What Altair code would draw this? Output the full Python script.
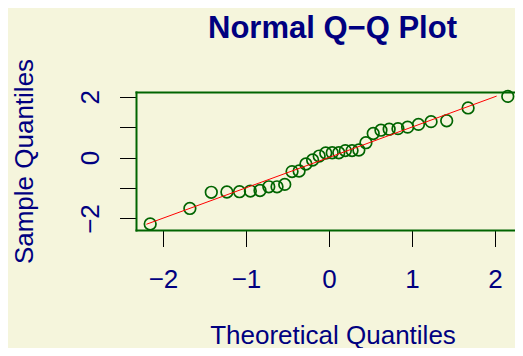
import altair as alt
import pandas as pd

# Theoretical quantiles (x) and sample quantiles (y)
theoretical = [-2.154, -1.676, -1.418, -1.230, -1.078, -0.947, -0.831, -0.725,
               -0.626, -0.533, -0.445, -0.360, -0.278, -0.197, -0.118, -0.039,
               0.039, 0.118, 0.197, 0.278, 0.360, 0.445, 0.533, 0.626,
               0.725, 0.831, 0.947, 1.078, 1.230, 1.418, 1.676, 2.154]
sample = [-2.18, -1.67, -1.14, -1.13, -1.12, -1.10, -1.08, -0.96,
          -0.96, -0.88, -0.46, -0.44, -0.21, -0.08, 0.05, 0.15,
          0.16, 0.16, 0.23, 0.23, 0.25, 0.49, 0.79, 0.90,
          0.93, 0.95, 1.00, 1.09, 1.18, 1.21, 1.63, 2.01]

# Reference line (qqline) end points
line_x = [-2.20, 2.02]
line_y = [-2.19, 2.02]

tick_values = [-2, -1, 0, 1, 2]

pts = pd.DataFrame({"x": theoretical, "y": sample})
ln = pd.DataFrame({"x": line_x, "y": line_y})

FONT = "Liberation Sans"
NAVY = "#000080"
GREEN = "#006400"
BG = "#f5f5dc"

W, H = 379, 138

xscale = alt.Scale(domain=[-2.325, 2.241], nice=False, zero=False)
yscale = alt.Scale(domain=[-2.378, 2.154], nice=False, zero=False)

yaxis = alt.Axis(
    values=tick_values,
    labelExpr="datum.value % 2 == 0 ? datum.label : ''",
    labelOverlap=False, labelFlush=False,
    labelAngle=270, labelAlign="center", labelBaseline="alphabetic",
    labelPadding=21, labelColor=NAVY, labelFont=FONT, labelFontSize=26,
    tickSize=16.5, tickColor="black", tickWidth=1,
    domainColor=GREEN, domainWidth=2, domainCap="square",
    grid=False,
    title="Sample Quantiles", titleAngle=270, titleX=-104, titleY=H / 2,
    titleAlign="center", titleBaseline="alphabetic", titleColor=NAVY,
    titleFont=FONT, titleFontSize=26, titleFontWeight="normal",
)

xaxis = alt.Axis(
    values=tick_values, format="d",
    labelOverlap=False, labelFlush=False,
    labelAlign="center", labelBaseline="alphabetic",
    labelPadding=40.8, labelColor=NAVY, labelFont=FONT, labelFontSize=26,
    tickSize=16.5, tickColor="black", tickWidth=1,
    domainColor=GREEN, domainWidth=2, domainCap="square",
    grid=False,
    title="Theoretical Quantiles", titleX=196.5, titleY=113,
    titleAlign="center", titleBaseline="alphabetic", titleColor=NAVY,
    titleFont=FONT, titleFontSize=26, titleFontWeight="normal",
)

xaxis_top = alt.Axis(
    orient="top", labels=False, ticks=False, grid=False, title=None,
    domainColor=GREEN, domainWidth=2, domainCap="square",
)

points = alt.Chart(pts).mark_point(
    shape="circle", filled=False, color=GREEN, strokeWidth=1.7, size=135, opacity=1
).encode(
    x=alt.X("x:Q", scale=xscale, axis=xaxis),
    y=alt.Y("y:Q", scale=yscale, axis=yaxis),
)

line = alt.Chart(ln).mark_line(color="red", strokeWidth=1).encode(
    x=alt.X("x:Q", scale=xscale, axis=xaxis_top),
    y=alt.Y("y:Q", scale=yscale, axis=yaxis),
)

chart = alt.layer(points, line).resolve_axis(x="independent").properties(
    width=W, height=H,
    title=alt.TitleParams(
        "Normal Q\u2212Q Plot", font=FONT, fontSize=31, fontWeight="bold",
        color=NAVY, anchor="middle", baseline="alphabetic", offset=22, dx=7, dy=33,
    ),
    autosize=alt.AutoSizeParams(type="none"),
    padding={"left": 128, "top": 84, "right": 0, "bottom": 118},
    background=BG,
).configure_view(stroke="transparent")

chart.save("out.html", embed_options={"renderer": "svg", "actions": False})
